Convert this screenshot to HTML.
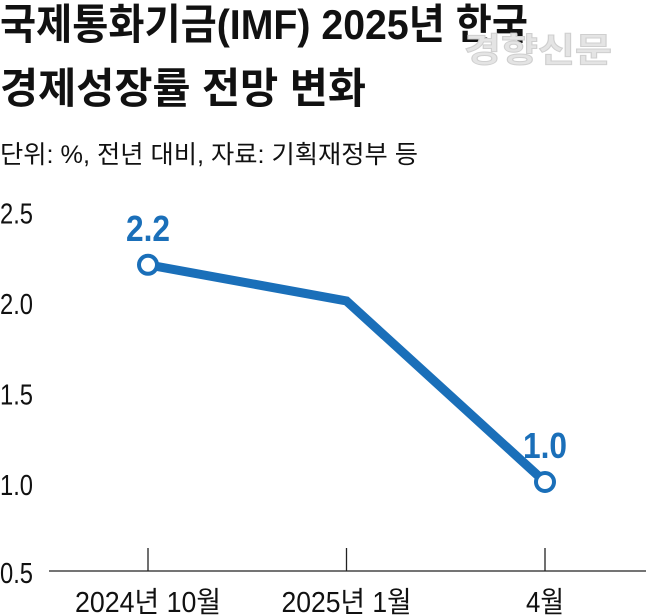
<!DOCTYPE html>
<html><head><meta charset="utf-8"><style>
body{margin:0;background:#fff;}
svg{display:block;font-family:"Liberation Sans Narrow","Liberation Sans","Noto Sans CJK KR",sans-serif;}
</style></head><body>
<svg width="646" height="616" viewBox="0 0 646 616">
<text x="0" y="39" font-size="42" font-weight="bold" textLength="528" lengthAdjust="spacingAndGlyphs" fill="#111">국제통화기금(IMF) 2025년 한국</text>
<text x="464" y="62" font-size="34" font-weight="bold" textLength="148" lengthAdjust="spacingAndGlyphs" fill="#e4e4e4" stroke="#cfcfcf" stroke-width="1">경향신문</text>
<text x="0" y="103" font-size="42" font-weight="bold" textLength="366" lengthAdjust="spacingAndGlyphs" fill="#111">경제성장률 전망 변화</text>
<text x="0" y="163" font-size="25" textLength="418" lengthAdjust="spacingAndGlyphs" fill="#111">단위: %, 전년 대비, 자료: 기획재정부 등</text>
<g id="yaxis"></g><g id="xaxis"></g><g id="plot"></g>
</svg>
<script>
const categories=["2024년 10월","2025년 1월","4월"];
const values=[2.2,2.0,1.0];
const labeled=[true,false,true];
const yTicks=[0.5,1.0,1.5,2.0,2.5];
const NS="http://www.w3.org/2000/svg";
function y(v){return 301-(v-2)*181;}
function x(i){return 148+i*198.5;}
function mk(t,a,p){const e=document.createElementNS(NS,t);for(const k in a)e.setAttribute(k,a[k]);p.appendChild(e);return e;}
const ya=document.getElementById('yaxis'),xa=document.getElementById('xaxis'),pl=document.getElementById('plot');
yTicks.forEach(v=>{const t=mk('text',{x:0,y:Math.min(y(v)+3,573)+10,'font-size':29,textLength:33,lengthAdjust:'spacingAndGlyphs',fill:'#111'},ya);t.textContent=v.toFixed(1);

});
const ax=mk('line',{x1:49,x2:646,y1:571,y2:571,stroke:'#222','stroke-width':1.3},xa);


categories.forEach((c,i)=>{const tk=mk('line',{x1:x(i),x2:x(i),y1:548,y2:571,stroke:'#222','stroke-width':1.3},xa);


const t=mk('text',{x:x(i),y:612,'font-size':29,'text-anchor':'middle',textLength:c.length>3?(c.length>8?146:130):38,lengthAdjust:'spacingAndGlyphs',fill:'#111'},xa);t.textContent=c;

});
const pts=values.map((v,i)=>x(i)+','+y(v)).join(' ');
const ln=mk('polyline',{points:pts,fill:'none',stroke:'#1a6fb9','stroke-width':9,'stroke-linejoin':'miter'},pl);


values.forEach((v,i)=>{if(!labeled[i])return;
const c=mk('circle',{cx:x(i),cy:y(v),r:9,fill:'#fff',stroke:'#1a6fb9','stroke-width':4},pl);


const t=mk('text',{x:x(i),y:y(v)-24,'font-size':36,'font-weight':'bold','text-anchor':'middle',textLength:44,lengthAdjust:'spacingAndGlyphs',fill:'#1a6fb9'},pl);t.textContent=v.toFixed(1);

});
</script>
</body></html>
